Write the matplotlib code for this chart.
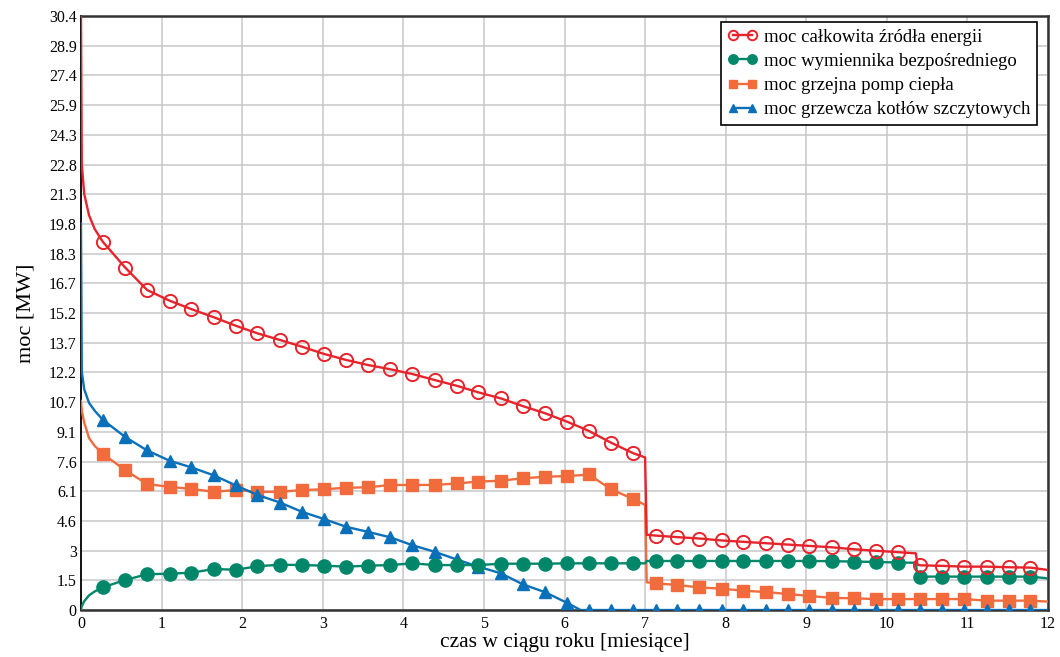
import matplotlib.pyplot as plt
import numpy as np

plt.rcParams['font.family'] = ['Liberation Serif', 'DejaVu Serif']

# czas [miesiące] - wspólna siatka punktów dla wszystkich krzywych
t = [0, 0.01, 0.04, 0.1, 0.17, 0.27, 0.55, 0.82, 1.1, 1.37, 1.65, 1.92, 2.19,
     2.47, 2.74, 3.02, 3.29, 3.56, 3.84, 4.11, 4.39, 4.66, 4.93, 5.21, 5.48,
     5.76, 6.03, 6.2, 6.3, 6.58, 6.85, 7.0, 7.02, 7.13, 7.4, 7.67, 7.95, 8.22,
     8.5, 8.77, 9.04, 9.32, 9.59, 9.87, 10.14, 10.36, 10.38, 10.41, 10.69,
     10.96, 11.24, 11.51, 11.78, 12.0]

# punkty, w których rysowane są znaczniki
t_mark = [0.27, 0.55, 0.82, 1.1, 1.37, 1.65, 1.92, 2.19, 2.47, 2.74, 3.02,
          3.29, 3.56, 3.84, 4.11, 4.39, 4.66, 4.93, 5.21, 5.48, 5.76, 6.03,
          6.3, 6.58, 6.85, 7.13, 7.4, 7.67, 7.95, 8.22, 8.5, 8.77, 9.04, 9.32,
          9.59, 9.87, 10.14, 10.41, 10.69, 10.96, 11.24, 11.51, 11.78]

moc_calkowita = [30.4, 22.8, 21.3, 20.2, 19.5, 18.85, 17.52, 16.38, 15.83,
                 15.4, 14.98, 14.55, 14.16, 13.82, 13.48, 13.1, 12.8, 12.54,
                 12.32, 12.08, 11.77, 11.48, 11.14, 10.83, 10.44, 10.07, 9.64,
                 9.35, 9.17, 8.56, 8.03, 7.81, 3.85, 3.81, 3.73, 3.66, 3.56,
                 3.49, 3.42, 3.35, 3.28, 3.21, 3.11, 3.03, 2.96, 2.9, 2.32,
                 2.29, 2.26, 2.22, 2.22, 2.19, 2.17, 2.05]

moc_wymiennika = [0, 0.2, 0.45, 0.75, 0.95, 1.16, 1.54, 1.83, 1.86, 1.91,
                  2.1, 2.06, 2.24, 2.32, 2.3, 2.27, 2.22, 2.27, 2.3, 2.39,
                  2.3, 2.3, 2.3, 2.37, 2.37, 2.37, 2.39, 2.39, 2.39, 2.39,
                  2.39, 2.39, 2.51, 2.51, 2.51, 2.51, 2.51, 2.51, 2.51, 2.51,
                  2.51, 2.5, 2.48, 2.46, 2.43, 2.42, 1.71, 1.71, 1.71, 1.71,
                  1.71, 1.71, 1.71, 1.62]

moc_pomp = [10.7, 10.2, 9.6, 8.8, 8.4, 8.0, 7.15, 6.45, 6.3, 6.2, 6.05, 6.14,
            6.05, 6.05, 6.14, 6.18, 6.26, 6.28, 6.4, 6.4, 6.4, 6.48, 6.57,
            6.62, 6.74, 6.82, 6.86, 6.9, 6.94, 6.17, 5.69, 5.38, 1.42, 1.37,
            1.28, 1.16, 1.09, 0.99, 0.92, 0.82, 0.72, 0.62, 0.6, 0.56, 0.56,
            0.56, 0.56, 0.56, 0.56, 0.56, 0.48, 0.48, 0.48, 0.43]

moc_kotlow = [19.8, 12.2, 11.3, 10.6, 10.2, 9.74, 8.85, 8.17, 7.64, 7.3,
              6.89, 6.38, 5.89, 5.5, 5.03, 4.65, 4.26, 4.0, 3.72, 3.32, 2.98,
              2.59, 2.22, 1.88, 1.32, 0.91, 0.37, 0, 0, 0, 0, 0, 0, 0, 0, 0,
              0, 0, 0, 0, 0, 0, 0, 0, 0, 0, 0, 0, 0, 0, 0, 0, 0, 0]

y_labels = ['0', '1.5', '3', '4.6', '6.1', '7.6', '9.1', '10.7', '12.2', '13.7',
            '15.2', '16.7', '18.3', '19.8', '21.3', '22.8', '24.3', '25.9',
            '27.4', '28.9', '30.4']

t = np.array(t)
idx = list(np.where(np.isin(t, t_mark))[0])

fig = plt.figure(figsize=(10.6, 6.57), dpi=100)
ax = fig.add_axes([0.0764, 0.0715, 0.9123, 0.9041])

ax.plot(t, moc_calkowita, color='#e8232b', lw=1.7, marker='o', ms=9.5,
        mfc='none', mew=1.4, markevery=idx, label='moc całkowita źródła energii', zorder=5)
ax.plot(t, moc_wymiennika, color='#00876a', lw=1.7, marker='o', ms=9.5,
        markevery=idx, label='moc wymiennika bezpośredniego', zorder=4)
ax.plot(t, moc_pomp, color='#f26b3c', lw=1.7, marker='s', ms=8.5,
        markevery=idx, label='moc grzejna pomp ciepła', zorder=3)
ax.plot(t, moc_kotlow, color='#0a70b9', lw=1.7, marker='^', ms=8,
        markevery=idx, label='moc grzewcza kotłów szczytowych', zorder=3)

ax.set_xlim(0, 12)
ax.set_ylim(0, 30.4)
ax.set_xticks(range(13))
ax.set_yticks(np.linspace(0, 30.4, 21))
ax.set_yticklabels(y_labels)
ax.tick_params(length=0, labelsize=11.5)
ax.tick_params(axis='x', pad=4)
ax.tick_params(axis='y', pad=3)
ax.grid(True, color='#c8c8cc', lw=1.1)
ax.set_axisbelow(True)

for side in ['top', 'right', 'bottom']:
    ax.spines[side].set_color('#333333')
    ax.spines[side].set_linewidth(1.8)
ax.spines['left'].set_color('black')
ax.spines['left'].set_linewidth(1.3)

ax.set_xlabel('czas w ciągu roku [miesiące]', fontsize=15.5, labelpad=1)
ax.set_ylabel('moc [MW]', fontsize=16, labelpad=10)

leg = ax.legend(loc='upper right', bbox_to_anchor=(0.9886, 0.99), borderaxespad=0,
                fontsize=13.5, numpoints=2, markerscale=0.72, handlelength=1.6,
                handletextpad=0.35, labelspacing=0.38, borderpad=0.35,
                fancybox=False, edgecolor='black', framealpha=1)
leg.get_frame().set_linewidth(1.2)

fig.savefig('out.png', dpi=100)
